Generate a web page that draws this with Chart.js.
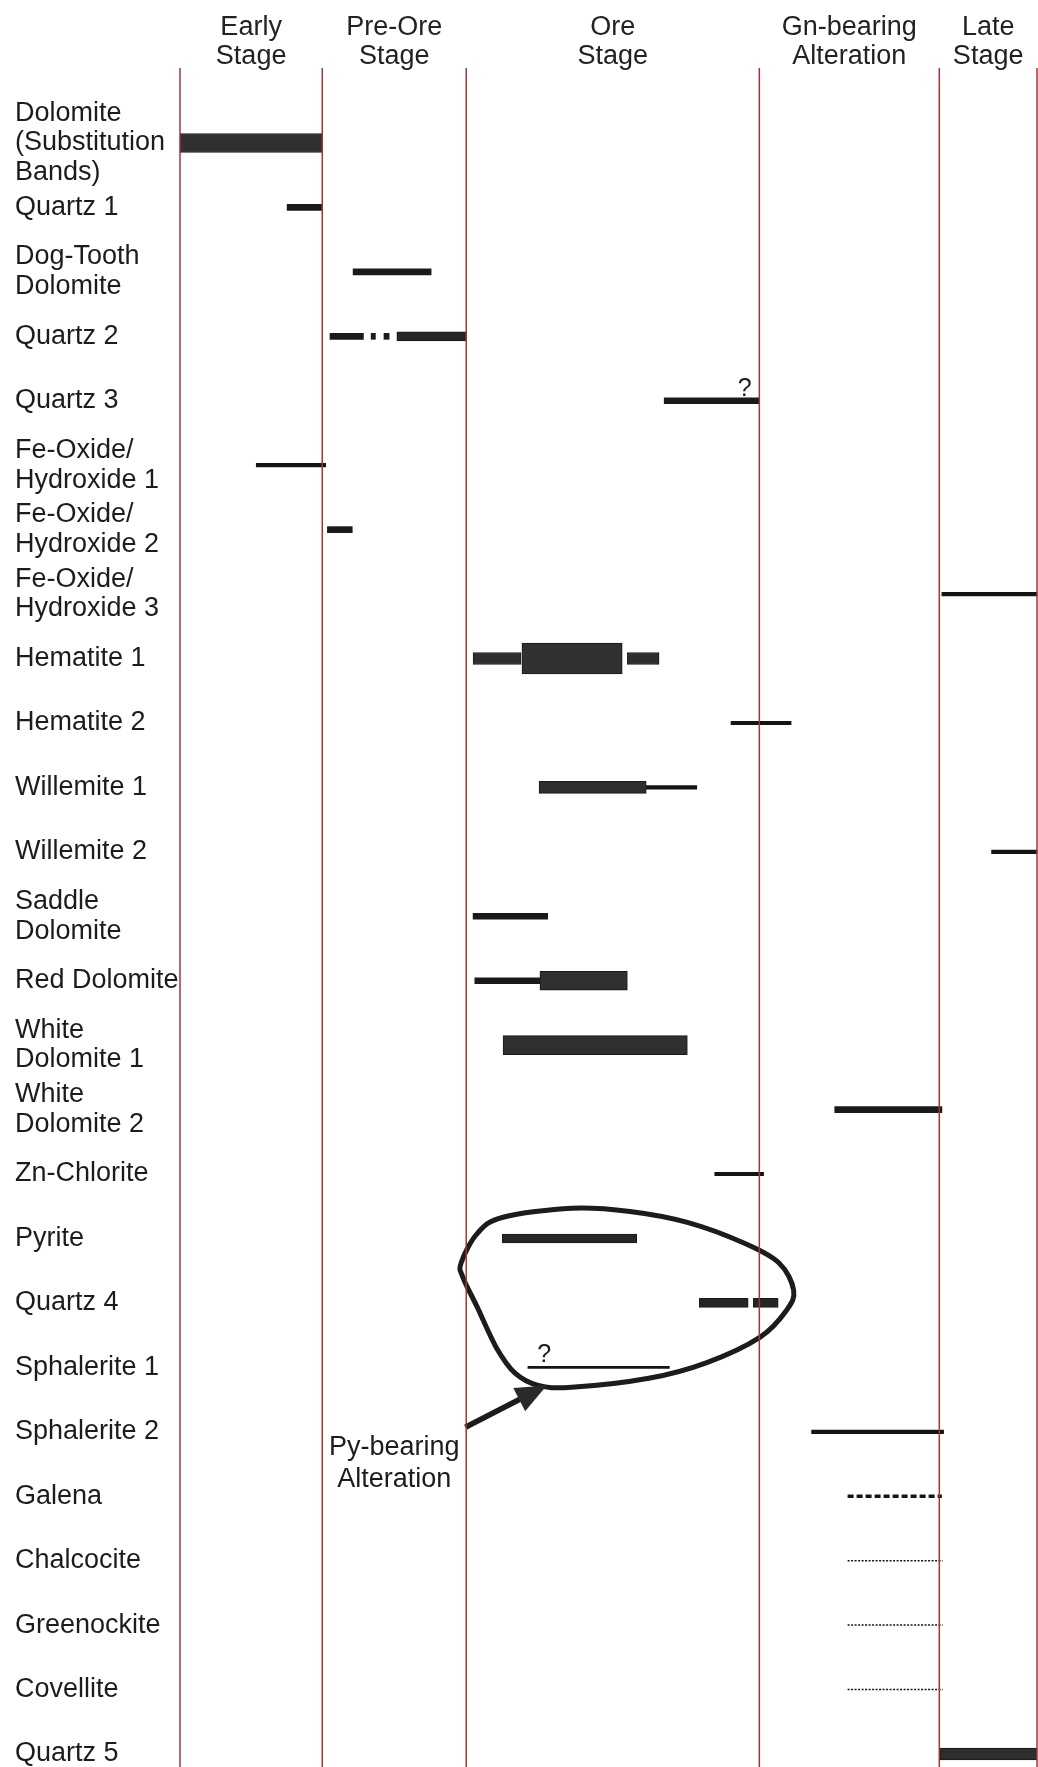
<!DOCTYPE html>
<html>
<head>
<meta charset="utf-8">
<title>Paragenetic sequence</title>
<script src="https://cdn.jsdelivr.net/npm/chart.js@4.4.1/dist/chart.umd.min.js"></script>
<style>
  html, body { margin: 0; padding: 0; background: #ffffff; }
  canvas { display: block; }
</style>
</head>
<body>
<canvas id="seq" width="1038" height="1767"></canvas>
<script>
// Relative time axis: 0 = start of the Early stage, 100 = end of the Late stage.
const stageNames = [
  ['Early', 'Stage'],
  ['Pre-Ore', 'Stage'],
  ['Ore', 'Stage'],
  ['Gn-bearing', 'Alteration'],
  ['Late', 'Stage']
];
const stageBounds = [0, 16.6, 33.4, 67.6, 88.6, 100];

// Minerals, top to bottom, and how each name is written on the axis.
const minerals = [
  'Dolomite', 'Quartz 1', 'Dog-Tooth Dolomite', 'Quartz 2', 'Quartz 3',
  'Fe-Oxide 1', 'Fe-Oxide 2', 'Fe-Oxide 3', 'Hematite 1', 'Hematite 2',
  'Willemite 1', 'Willemite 2', 'Saddle Dolomite', 'Red Dolomite',
  'White Dolomite 1', 'White Dolomite 2', 'Zn-Chlorite', 'Pyrite', 'Quartz 4',
  'Sphalerite 1', 'Sphalerite 2', 'Galena', 'Chalcocite', 'Greenockite',
  'Covellite', 'Quartz 5'
];
const mineralLabels = [
  ['Dolomite', '(Substitution', 'Bands)'], ['Quartz 1'], ['Dog-Tooth', 'Dolomite'],
  ['Quartz 2'], ['Quartz 3'], ['Fe-Oxide/', 'Hydroxide 1'], ['Fe-Oxide/', 'Hydroxide 2'],
  ['Fe-Oxide/', 'Hydroxide 3'], ['Hematite 1'], ['Hematite 2'], ['Willemite 1'],
  ['Willemite 2'], ['Saddle', 'Dolomite'], ['Red Dolomite'], ['White', 'Dolomite 1'],
  ['White', 'Dolomite 2'], ['Zn-Chlorite'], ['Pyrite'], ['Quartz 4'], ['Sphalerite 1'],
  ['Sphalerite 2'], ['Galena'], ['Chalcocite'], ['Greenockite'], ['Covellite'], ['Quartz 5']
];

// Occurrence intervals [mineral, start, end], grouped by abundance class.
const peakBars = [
  ['Hematite 1', 39.9, 51.6]
];
const abundantBars = [
  ['Dolomite', 0, 16.6],
  ['Red Dolomite', 42.0, 52.2],
  ['White Dolomite 1', 37.7, 59.2]
];
const commonBars = [
  ['Hematite 1', 34.2, 39.8],
  ['Hematite 1', 52.2, 55.9],
  ['Willemite 1', 41.9, 54.4],
  ['Quartz 5', 88.7, 100]
];
const moderateBars = [
  ['Quartz 2', 25.3, 33.4],
  ['Pyrite', 37.6, 53.3],
  ['Quartz 4', 60.6, 66.3],
  ['Quartz 4', 66.9, 69.8]
];
const minorBars = [
  ['Quartz 1', 12.5, 16.6],
  ['Dog-Tooth Dolomite', 20.2, 29.3],
  ['Quartz 2', 17.5, 21.4],
  ['Quartz 2', 22.3, 22.8],
  ['Quartz 2', 23.8, 24.4],
  ['Quartz 3', 56.5, 67.6],
  ['Fe-Oxide 2', 17.2, 20.1],
  ['Saddle Dolomite', 34.2, 42.9],
  ['Red Dolomite', 34.4, 42.0],
  ['White Dolomite 2', 76.4, 88.9]
];
const traceBars = [
  ['Fe-Oxide 1', 8.9, 17.0],
  ['Fe-Oxide 3', 88.9, 100],
  ['Hematite 2', 64.3, 71.3],
  ['Willemite 1', 54.4, 60.3],
  ['Willemite 2', 94.7, 100],
  ['Zn-Chlorite', 62.4, 68.1],
  ['Sphalerite 2', 73.7, 89.1]
];
const faintBars = [
  ['Sphalerite 1', 40.6, 57.1]
];
const dashedSpans = [
  ['Galena', 77.9, 88.9]
];
const dottedSpans = [
  ['Chalcocite', 77.9, 89.0],
  ['Greenockite', 77.9, 89.0],
  ['Covellite', 77.9, 89.0]
];

// Uncertain timing marks: [mineral, time].
const uncertainMarks = [
  ['Quartz 3', 65.9],
  ['Sphalerite 1', 42.5]
];

// Outline of the pyrite-bearing alteration assemblage, as [time, row] points.
const pyOutline = [
  [32.8, 17.38], [34.7, 16.92], [37.7, 16.67], [45.7, 16.53], [52.5, 16.58],
  [59.2, 16.75], [65.8, 17.07], [69.9, 17.38], [71.6, 17.80], [70.8, 18.11],
  [67.7, 18.53], [61.4, 18.93], [54.7, 19.17], [45.7, 19.31], [41.8, 19.28],
  [39.1, 19.09], [36.9, 18.69], [34.7, 18.07], [33.0, 17.60]
];
const pyArrowFrom = [33.3, 19.93];
const pyArrowTo = [42.8, 19.28];
const pyNote = ['Py-bearing', 'Alteration'];
const pyNoteStage = 1;
const pyNoteRow = 20.36;

const FONT = "'Liberation Sans', Arial, Helvetica, sans-serif";
const INK = '#1c1c1c';

function barSet(rows, thickness, fill, border) {
  return {
    type: 'bar',
    data: rows.map(r => ({ y: r[0], x: [r[1], r[2]] })),
    barThickness: thickness,
    grouped: false,
    clip: false,
    backgroundColor: fill,
    borderColor: border || fill,
    borderWidth: border ? 1 : 0,
    borderSkipped: false
  };
}

function spanSet(span, width, dash) {
  return {
    type: 'line',
    indexAxis: 'y',
    data: [{ y: span[0], x: span[1] }, { y: span[0], x: span[2] }],
    borderColor: '#151515',
    borderWidth: width,
    borderDash: dash,
    borderCapStyle: 'butt',
    pointRadius: 0,
    clip: false,
    fill: false
  };
}

const datasets = [
  barSet(peakBars, 31, '#303030', '#1a1a1a'),
  barSet(abundantBars, 19, '#303030', '#1a1a1a'),
  barSet(commonBars, 12, '#2e2e2e', '#1a1a1a'),
  barSet(moderateBars, 9, '#262626', '#1a1a1a'),
  barSet(minorBars, 6, '#1a1a1a'),
  barSet(traceBars, 3.5, '#141414'),
  barSet(faintBars, 2, '#141414'),
  ...dashedSpans.map(s => spanSet(s, 3.5, [6, 3])),
  ...dottedSpans.map(s => spanSet(s, 1.5, [2, 1.5]))
];

// Stage boundaries, stage headings and the alteration annotation.
const stagePlugin = {
  id: 'stages',
  beforeDraw(chart) {
    const { ctx, scales: { x } } = chart;
    ctx.save();
    ctx.fillStyle = '#222222';
    ctx.font = '27px ' + FONT;
    ctx.textAlign = 'center';
    ctx.textBaseline = 'alphabetic';
    stageNames.forEach((lines, i) => {
      const cx = (x.getPixelForValue(stageBounds[i]) + x.getPixelForValue(stageBounds[i + 1])) / 2;
      lines.forEach((t, j) => ctx.fillText(t, cx, 35 + j * 29));
    });
    ctx.restore();
  },
  afterDatasetsDraw(chart) {
    const { ctx, scales: { x, y } } = chart;
    const px = v => x.getPixelForValue(v);
    const py = v => y.getPixelForValue(v);
    ctx.save();

    // alteration outline: smooth closed curve through the outline points
    const pts = pyOutline.map(p => [px(p[0]), py(p[1])]);
    const n = pts.length;
    ctx.beginPath();
    ctx.moveTo(pts[0][0], pts[0][1]);
    for (let i = 0; i < n; i++) {
      const p0 = pts[(i - 1 + n) % n], p1 = pts[i], p2 = pts[(i + 1) % n], p3 = pts[(i + 2) % n];
      ctx.bezierCurveTo(
        p1[0] + (p2[0] - p0[0]) / 6, p1[1] + (p2[1] - p0[1]) / 6,
        p2[0] - (p3[0] - p1[0]) / 6, p2[1] - (p3[1] - p1[1]) / 6,
        p2[0], p2[1]
      );
    }
    ctx.closePath();
    ctx.strokeStyle = INK;
    ctx.lineWidth = 5;
    ctx.stroke();

    // arrow pointing at the outline
    const ax = px(pyArrowFrom[0]), ay = py(pyArrowFrom[1]);
    const tx = px(pyArrowTo[0]), ty = py(pyArrowTo[1]);
    const len = Math.hypot(tx - ax, ty - ay);
    const ux = (tx - ax) / len, uy = (ty - ay) / len;
    const headLen = 31, headHalf = 13;
    const bx = tx - ux * headLen, by = ty - uy * headLen;
    ctx.beginPath();
    ctx.moveTo(ax, ay);
    ctx.lineTo(bx + ux * 4, by + uy * 4);
    ctx.lineWidth = 5.5;
    ctx.stroke();
    ctx.beginPath();
    ctx.moveTo(tx, ty);
    ctx.lineTo(bx - uy * headHalf, by + ux * headHalf);
    ctx.lineTo(bx + uy * headHalf, by - ux * headHalf);
    ctx.closePath();
    ctx.fillStyle = '#2a2a2a';
    ctx.fill();

    // annotation text
    ctx.fillStyle = INK;
    ctx.font = '27px ' + FONT;
    ctx.textAlign = 'center';
    ctx.textBaseline = 'alphabetic';
    const nx = (px(stageBounds[pyNoteStage]) + px(stageBounds[pyNoteStage + 1])) / 2;
    pyNote.forEach((t, j) => ctx.fillText(t, nx, py(pyNoteRow) + j * 32));

    // question marks above uncertain intervals
    ctx.font = '25px ' + FONT;
    uncertainMarks.forEach(m => {
      ctx.fillText('?', px(m[1]), py(minerals.indexOf(m[0])) - 5);
    });

    // stage boundaries run the full height below the headings
    ctx.strokeStyle = '#a3343c';
    ctx.lineWidth = 1.5;
    stageBounds.forEach(b => {
      const lx = Math.min(px(b), chart.width - 1);
      ctx.beginPath();
      ctx.moveTo(lx, 68);
      ctx.lineTo(lx, chart.height);
      ctx.stroke();
    });
    ctx.restore();
  }
};

new Chart(document.getElementById('seq'), {
  type: 'bar',
  data: { labels: minerals, datasets },
  options: {
    indexAxis: 'y',
    responsive: false,
    devicePixelRatio: 1,
    animation: false,
    events: [],
    layout: { padding: { top: 143, bottom: 13, left: 15, right: 1 } },
    plugins: { legend: { display: false }, tooltip: { enabled: false } },
    scales: {
      x: {
        type: 'linear',
        min: 0,
        max: 100,
        display: false
      },
      y: {
        type: 'category',
        offset: false,
        grid: { display: false, drawTicks: false },
        border: { display: false },
        afterFit(scale) {
          scale.width = 165;
          scale.paddingTop = 0;
          scale.paddingBottom = 0;
        },
        ticks: {
          autoSkip: false,
          crossAlign: 'far',
          padding: 0,
          color: INK,
          font: { family: FONT, size: 27, lineHeight: 1.1 },
          callback: (value, index) => mineralLabels[index]
        }
      }
    }
  },
  plugins: [stagePlugin]
});
</script>
</body>
</html>
